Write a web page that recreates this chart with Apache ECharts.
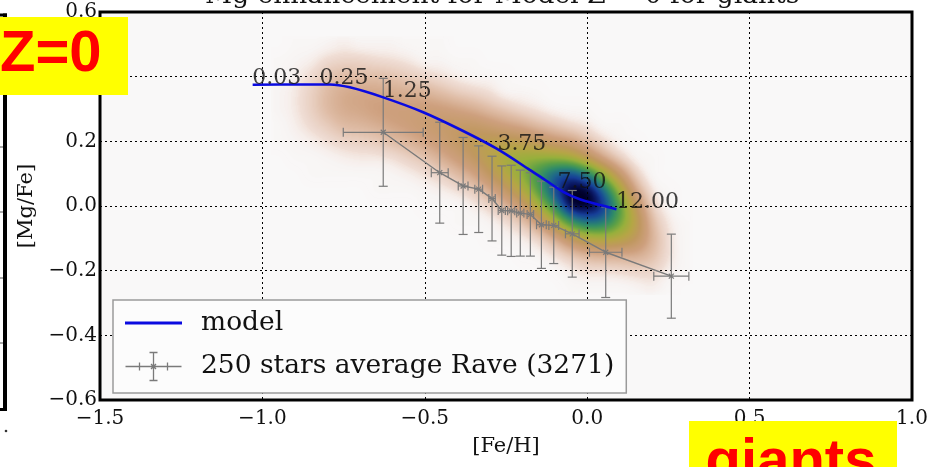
<!DOCTYPE html>
<html>
<head>
<meta charset="utf-8">
<script src="https://cdn.jsdelivr.net/npm/echarts@6/dist/echarts.min.js"></script>
<style>
  html, body { margin: 0; padding: 0; background: #ffffff; }
  #chart { width: 944px; height: 467px; }
</style>
</head>
<body>
<div id="chart"></div>
<script>
// Axis ticks and the labels printed at them
const xTicks = [-1.5, -1.0, -0.5, 0.0, 0.5, 1.0];
const xTickLabels = ['−1.5', '−1.0', '−0.5', '0.0', '0.5', '1.0'];
const yTicks = [-0.6, -0.4, -0.2, 0.0, 0.2, 0.4, 0.6];
const yTickLabels = ['−0.6', '−0.4', '−0.2', '0.0', '0.2', '0.4', '0.6'];

// Chemical-evolution model track, [Fe/H] vs [Mg/Fe]
const modelFeH  = [-1.03, -0.885, -0.792, -0.731, -0.628, -0.505, -0.382, -0.280, -0.177, -0.126, -0.074, -0.023, 0.028, 0.090];
const modelMgFe = [0.375, 0.376, 0.376, 0.367, 0.336, 0.290, 0.232, 0.178, 0.112, 0.078, 0.044, 0.021, 0.006, -0.010];

// Ages (Gyr) written along the model track
const ageLabels = ['0.03', '0.25', '1.25', '3.75', '7.50', '12.00'];
const ageFeH    = [-1.03, -0.823, -0.628, -0.275, -0.09, 0.090];
const ageMgFe   = [0.375, 0.376, 0.336, 0.172, 0.054, -0.010];

// RAVE giants averaged in bins of 250 stars, with 1-sigma spreads
const raveName    = '250 stars average Rave (3271)';
const raveFeH     = [-0.628, -0.454, -0.382, -0.334, -0.293, -0.263, -0.234, -0.206, -0.175, -0.141, -0.103, -0.046, 0.057, 0.259];
const raveMgFe    = [0.228, 0.103, 0.062, 0.052, 0.023, -0.014, -0.015, -0.022, -0.026, -0.058, -0.060, -0.086, -0.143, -0.217];
const raveFeHErr  = [0.123, 0.026, 0.015, 0.012, 0.010, 0.011, 0.011, 0.011, 0.010, 0.015, 0.015, 0.021, 0.050, 0.054];
const raveMgFeErr = [0.167, 0.156, 0.150, 0.134, 0.131, 0.138, 0.141, 0.133, 0.129, 0.135, 0.118, 0.134, 0.140, 0.130];

// Stellar density map (percent of peak) on a regular grid:
// columns at densityFeH, rows at densityMgFe (top row first)
const densityFeH  = [-0.95, -0.90, -0.85, -0.80, -0.75, -0.70, -0.65, -0.60, -0.55, -0.50, -0.45, -0.40, -0.35,
                     -0.30, -0.25, -0.20, -0.15, -0.10, -0.05, 0.00, 0.05, 0.10, 0.15, 0.20, 0.25, 0.30];
const densityMgFe = [0.50, 0.45, 0.40, 0.35, 0.30, 0.25, 0.20, 0.15, 0.10, 0.05, 0.00, -0.05, -0.10, -0.15, -0.20, -0.25];
const densityRows = [
  [0, 1, 1, 2, 3, 2, 2, 2, 1, 1, 1, 0, 0, 0, 0, 0, 0, 0, 0, 0, 0, 0, 0, 0, 0, 0],
  [1, 2, 3, 6, 7, 7, 6, 5, 4, 2, 2, 1, 1, 0, 0, 0, 0, 0, 0, 0, 0, 0, 0, 0, 0, 0],
  [1, 3, 6, 10, 13, 12, 12, 11, 9, 7, 5, 3, 2, 2, 1, 0, 0, 0, 0, 0, 0, 0, 0, 0, 0, 0],
  [2, 4, 8, 13, 17, 18, 18, 17, 16, 15, 12, 9, 7, 5, 2, 2, 1, 0, 0, 0, 0, 0, 0, 0, 0, 0],
  [2, 4, 8, 13, 17, 18, 20, 21, 21, 22, 21, 19, 16, 12, 9, 6, 4, 2, 1, 1, 0, 0, 0, 0, 0, 0],
  [1, 3, 6, 9, 13, 14, 16, 19, 21, 24, 26, 27, 27, 24, 20, 17, 12, 9, 6, 4, 1, 1, 0, 0, 0, 0],
  [1, 2, 3, 5, 7, 8, 9, 12, 15, 19, 23, 28, 33, 35, 35, 33, 29, 24, 20, 12, 6, 2, 1, 0, 0, 0],
  [0, 1, 1, 2, 3, 4, 4, 5, 8, 11, 16, 22, 29, 37, 45, 49, 50, 50, 46, 33, 18, 8, 2, 1, 0, 0],
  [0, 0, 1, 1, 1, 1, 1, 2, 3, 5, 8, 13, 19, 30, 41, 52, 66, 80, 86, 74, 50, 26, 8, 1, 0, 0],
  [0, 0, 0, 0, 0, 0, 1, 1, 1, 2, 3, 5, 9, 17, 28, 42, 62, 86, 100, 100, 80, 48, 18, 4, 1, 0],
  [0, 0, 0, 0, 0, 0, 0, 0, 0, 1, 1, 1, 3, 7, 14, 24, 44, 70, 98, 100, 90, 62, 31, 8, 2, 0],
  [0, 0, 0, 0, 0, 0, 0, 0, 0, 0, 0, 1, 1, 2, 5, 10, 22, 42, 66, 78, 75, 58, 37, 13, 4, 1],
  [0, 0, 0, 0, 0, 0, 0, 0, 0, 0, 0, 0, 0, 1, 2, 3, 7, 16, 30, 40, 44, 40, 31, 15, 5, 1],
  [0, 0, 0, 0, 0, 0, 0, 0, 0, 0, 0, 0, 0, 0, 0, 1, 2, 5, 10, 15, 17, 17, 17, 12, 5, 1],
  [0, 0, 0, 0, 0, 0, 0, 0, 0, 0, 0, 0, 0, 0, 0, 0, 0, 1, 3, 5, 5, 6, 7, 7, 3, 1],
  [0, 0, 0, 0, 0, 0, 0, 0, 0, 0, 0, 0, 0, 0, 0, 0, 0, 0, 1, 1, 1, 1, 2, 3, 1, 0]
];

// Earth-tone colour ramp: [density, r, g, b] from empty to densest
const densityColours = [
  [0.00, 250, 248, 247],
  [0.05, 240, 222, 214],
  [0.12, 224, 190, 168],
  [0.20, 206, 160, 126],
  [0.30, 192, 152, 96],
  [0.40, 182, 166, 70],
  [0.50, 152, 176, 60],
  [0.60, 92, 160, 70],
  [0.70, 48, 140, 104],
  [0.80, 30, 102, 140],
  [0.88, 22, 62, 152],
  [0.95, 10, 22, 96],
  [1.00, 0, 0, 40]
];

function rampColour(v) {
  const s = densityColours;
  if (v <= s[0][0]) return s[0].slice(1);
  for (let i = 1; i < s.length; i++) {
    if (v <= s[i][0]) {
      const a = s[i - 1], b = s[i], f = (v - a[0]) / (b[0] - a[0]);
      return [a[1] + (b[1] - a[1]) * f, a[2] + (b[2] - a[2]) * f, a[3] + (b[3] - a[3]) * f];
    }
  }
  return s[s.length - 1].slice(1);
}

// Paint the density grid into a smooth, colour-mapped bitmap of w x h pixels
let densityCache = null;
function densityBitmap(w, h) {
  if (densityCache && densityCache.width === w && densityCache.height === h) return densityCache;
  const nx = densityFeH.length, ny = densityMgFe.length;
  const src = document.createElement('canvas');
  src.width = nx; src.height = ny;
  const sctx = src.getContext('2d');
  const sImg = sctx.createImageData(nx, ny);
  for (let j = 0; j < ny; j++) {
    for (let i = 0; i < nx; i++) {
      const v = Math.round(densityRows[j][i] / 100 * 255);
      const k = (j * nx + i) * 4;
      sImg.data[k] = sImg.data[k + 1] = sImg.data[k + 2] = v;
      sImg.data[k + 3] = 255;
    }
  }
  sctx.putImageData(sImg, 0, 0);

  const out = document.createElement('canvas');
  out.width = w; out.height = h;
  const ctx = out.getContext('2d');
  ctx.fillStyle = '#000';
  ctx.fillRect(0, 0, w, h);
  ctx.imageSmoothingEnabled = true;
  ctx.imageSmoothingQuality = 'high';
  ctx.filter = 'blur(3px)';
  ctx.drawImage(src, 0, 0, w, h);
  ctx.filter = 'none';

  const img = ctx.getImageData(0, 0, w, h);
  const d = img.data;
  for (let k = 0; k < d.length; k += 4) {
    const v = d[k] / 255;
    const c = rampColour(v);
    d[k] = Math.round(c[0]);
    d[k + 1] = Math.round(c[1]);
    d[k + 2] = Math.round(c[2]);
    d[k + 3] = Math.round(Math.min(1, v / 0.05) * 255);
  }
  ctx.putImageData(img, 0, 0);
  densityCache = out;
  return out;
}

function tickText(ticks, labels) {
  return function (v) {
    const i = ticks.findIndex(t => Math.abs(t - v) < 1e-9);
    return i < 0 ? '' : labels[i];
  };
}

const serif = 'DejaVu Serif';
const textColor = '#111111';
const barGrey = '#7a7a7a';
const modelBlue = '#0a0ae0';

const chart = echarts.init(document.getElementById('chart'), null, { renderer: 'canvas' });

const option = {
  backgroundColor: '#ffffff',
  animation: false,
  title: {
    text: 'Mg enhancement for Model Z = 0 for giants',
    left: 205,
    top: -17,
    padding: 0,
    textStyle: { fontFamily: serif, fontSize: 26.5, fontWeight: 'normal', color: textColor }
  },
  grid: {
    left: 100, right: 32, top: 12, bottom: 67,
    show: true, z: -2,
    backgroundColor: '#f9f8f8',
    borderColor: '#000000',
    borderWidth: 3
  },
  legend: {
    orient: 'vertical',
    left: 113, top: 300,
    padding: [9, 12, 10, 10],
    itemGap: 13,
    itemWidth: 57, itemHeight: 28,
    backgroundColor: '#fcfcfc',
    borderColor: '#9a9a9a',
    borderWidth: 1.5,
    borderRadius: 0,
    textStyle: { fontFamily: serif, fontSize: 26.5, color: textColor, padding: [0, 0, 0, 14] },
    data: [
      {
        name: 'model',
        icon: 'path://M0,0H0.05V0.05H0ZM0,12.5H57V15.5H0ZM0,27.95H0.05V28H0Z',
        itemStyle: { color: modelBlue, borderWidth: 0 }
      },
      {
        name: raveName,
        icon: 'path://M0,14H56M14,10V18M42,10V18M28,0V28M24,0H32M24,28H32M25.5,11.5L30.5,16.5M30.5,11.5L25.5,16.5',
        itemStyle: { color: 'none', borderColor: barGrey, borderWidth: 1.3 }
      }
    ]
  },
  xAxis: {
    type: 'value',
    min: -1.5, max: 1.0, interval: 0.5,
    axisLine: { show: false },
    axisTick: { show: false },
    splitLine: { show: true, lineStyle: { color: '#000000', width: 1, type: [2, 3] } },
    axisLabel: {
      formatter: tickText(xTicks, xTickLabels),
      fontFamily: serif, fontSize: 20, color: textColor, margin: 9,
      showMinLabel: true, showMaxLabel: true
    },
    name: '[Fe/H]',
    nameLocation: 'middle',
    nameGap: 36,
    nameTextStyle: { fontFamily: serif, fontSize: 21, color: textColor }
  },
  yAxis: {
    type: 'value',
    min: -0.6, max: 0.6, interval: 0.2,
    axisLine: { show: false },
    axisTick: { show: false },
    splitLine: { show: true, lineStyle: { color: '#000000', width: 1, type: [2, 3] } },
    axisLabel: {
      formatter: tickText(yTicks, yTickLabels),
      fontFamily: serif, fontSize: 20, color: textColor, margin: 3,
      showMinLabel: true, showMaxLabel: true
    },
    name: '[Mg/Fe]',
    nameLocation: 'middle',
    nameGap: 52,
    nameTextStyle: { fontFamily: serif, fontSize: 21, color: textColor }
  },
  series: [
    {
      // smoothed star density behind everything
      type: 'custom',
      name: 'density',
      z: -1,
      silent: true,
      clip: true,
      data: [[densityFeH[0], densityMgFe[0]]],
      encode: { x: 0, y: 1 },
      renderItem: function (params, api) {
        const hx = (densityFeH[1] - densityFeH[0]) / 2;
        const hy = (densityMgFe[0] - densityMgFe[1]) / 2;
        const p0 = api.coord([densityFeH[0] - hx, densityMgFe[0] + hy]);
        const p1 = api.coord([densityFeH[densityFeH.length - 1] + hx, densityMgFe[densityMgFe.length - 1] - hy]);
        const w = Math.max(1, Math.round(p1[0] - p0[0]));
        const h = Math.max(1, Math.round(p1[1] - p0[1]));
        return {
          type: 'image',
          style: { image: densityBitmap(w, h), x: p0[0], y: p0[1], width: w, height: h }
        };
      }
    },
    {
      // error bars with x markers
      type: 'custom',
      name: raveName,
      z: 3,
      silent: true,
      data: raveFeH.map((x, i) => [x, raveMgFe[i], raveFeHErr[i], raveMgFeErr[i]]),
      encode: { x: 0, y: 1 },
      itemStyle: { color: barGrey },
      renderItem: function (params, api) {
        const x = api.value(0), y = api.value(1), ex = api.value(2), ey = api.value(3);
        const c = api.coord([x, y]);
        const top = api.coord([x, y + ey]);
        const bot = api.coord([x, y - ey]);
        const lft = api.coord([x - ex, y]);
        const rgt = api.coord([x + ex, y]);
        const cap = 4.5, m = 2.5;
        const st = { stroke: barGrey, lineWidth: 1.2, fill: null };
        const seg = (x1, y1, x2, y2) => ({ type: 'line', shape: { x1, y1, x2, y2 }, style: st });
        return {
          type: 'group',
          children: [
            seg(top[0], top[1], bot[0], bot[1]),
            seg(lft[0], lft[1], rgt[0], rgt[1]),
            seg(top[0] - cap, top[1], top[0] + cap, top[1]),
            seg(bot[0] - cap, bot[1], bot[0] + cap, bot[1]),
            seg(lft[0], lft[1] - cap, lft[0], lft[1] + cap),
            seg(rgt[0], rgt[1] - cap, rgt[0], rgt[1] + cap),
            seg(c[0] - m, c[1] - m, c[0] + m, c[1] + m),
            seg(c[0] - m, c[1] + m, c[0] + m, c[1] - m)
          ]
        };
      }
    },
    {
      type: 'line',
      name: 'rave-trend',
      z: 3,
      silent: true,
      symbol: 'none',
      data: raveFeH.map((x, i) => [x, raveMgFe[i]]),
      lineStyle: { color: barGrey, width: 1.4 }
    },
    {
      type: 'line',
      name: 'model',
      z: 5,
      silent: true,
      symbol: 'none',
      smooth: 0.3,
      data: modelFeH.map((x, i) => [x, modelMgFe[i]]),
      itemStyle: { color: modelBlue },
      lineStyle: { color: modelBlue, width: 2.6 }
    },
    {
      type: 'scatter',
      name: 'ages',
      z: 6,
      silent: true,
      symbolSize: 1,
      itemStyle: { color: 'rgba(0,0,0,0)' },
      data: ageFeH.map((x, i) => [x, ageMgFe[i]]),
      label: {
        show: true,
        formatter: p => ageLabels[p.dataIndex],
        position: [0, 0],
        align: 'left',
        verticalAlign: 'bottom',
        offset: [0, 5],
        fontFamily: serif,
        fontSize: 22,
        color: textColor
      }
    }
  ],
  graphic: [
    // edge of the neighbouring panel
    { type: 'line', z: 50, shape: { x1: 5, y1: 13.5, x2: 5, y2: 411 }, style: { stroke: '#000', lineWidth: 4 } },
    { type: 'line', z: 50, shape: { x1: 0, y1: 15, x2: 7, y2: 15 }, style: { stroke: '#000', lineWidth: 3 } },
    { type: 'line', z: 50, shape: { x1: 0, y1: 409.5, x2: 7, y2: 409.5 }, style: { stroke: '#000', lineWidth: 3 } },
    { type: 'line', z: 50, shape: { x1: 0, y1: 147, x2: 3, y2: 147 }, style: { stroke: '#555', lineWidth: 1 } },
    { type: 'line', z: 50, shape: { x1: 0, y1: 212, x2: 3, y2: 212 }, style: { stroke: '#555', lineWidth: 1 } },
    { type: 'line', z: 50, shape: { x1: 0, y1: 278, x2: 3, y2: 278 }, style: { stroke: '#555', lineWidth: 1 } },
    { type: 'line', z: 50, shape: { x1: 0, y1: 343, x2: 3, y2: 343 }, style: { stroke: '#555', lineWidth: 1 } },
    { type: 'circle', z: 50, shape: { cx: 6, cy: 431, r: 1.3 }, style: { fill: '#333' } },
    // panel tags
    { type: 'rect', z: 100, shape: { x: 0, y: 17, width: 128, height: 78 }, style: { fill: '#ffff00' } },
    {
      type: 'text', z: 101, x: 0, y: 55,
      style: { text: 'Z=0', fill: '#ff0000', font: 'bold 58px "Liberation Sans", Arial, sans-serif', align: 'left', verticalAlign: 'middle' }
    },
    { type: 'rect', z: 100, shape: { x: 689, y: 421, width: 208, height: 50 }, style: { fill: '#ffff00' } },
    {
      type: 'text', z: 101, x: 791, y: 463,
      style: { text: 'giants', fill: '#ff0000', font: 'bold 58px "Liberation Sans", Arial, sans-serif', align: 'center', verticalAlign: 'middle' }
    }
  ]
};

chart.setOption(option);
</script>
</body>
</html>
